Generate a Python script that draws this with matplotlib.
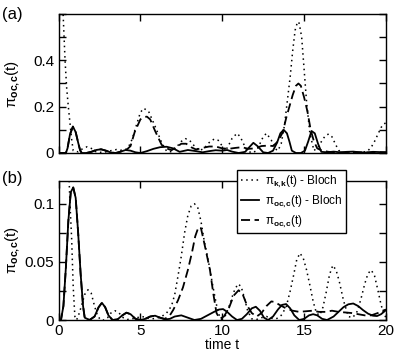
import matplotlib
matplotlib.use("Agg")
import matplotlib.pyplot as plt
from matplotlib.ticker import MultipleLocator, FixedLocator

plt.rcParams['font.family'] = ['Liberation Sans', 'DejaVu Sans']
plt.rcParams['mathtext.fontset'] = 'custom'
plt.rcParams['mathtext.rm'] = 'Liberation Sans'
plt.rcParams['mathtext.it'] = 'Liberation Sans'
plt.rcParams['mathtext.bf'] = 'Liberation Sans:bold'

# ---------------- panel (a) ----------------
ta_kk = [0, 0.1, 0.2, 0.27, 0.4, 0.5, 0.6, 0.7, 0.8, 0.9, 1.2, 1.5, 1.75, 2.0, 2.3, 2.7, 3.0, 3.3,
         3.55, 3.8, 4.1, 4.3, 4.5, 4.8, 5.0, 5.2, 5.5, 5.9, 6.3, 6.6, 6.9, 7.2, 7.5, 7.75, 8.0, 8.3,
         8.6, 8.9, 9.2, 9.5, 9.75, 10.0, 10.2, 10.4, 10.6, 10.9, 11.1, 11.3, 11.5, 11.8, 12.1, 12.3,
         12.5, 12.7, 13.0, 13.2, 13.4, 13.6, 13.8, 14.0, 14.15, 14.3, 14.45, 14.6, 14.7, 14.85, 15.0,
         15.15, 15.35, 15.6, 15.9, 16.1, 16.3, 16.5, 16.7, 16.9, 17.1, 17.4, 17.8, 18.2, 18.6, 18.9,
         19.1, 19.3, 19.5, 19.7, 19.85, 20.0]
va_kk = [1.0, 0.95, 0.78, 0.62, 0.40, 0.28, 0.20, 0.13, 0.06, 0.01, 0.005, 0.02, 0.027, 0.02, 0.005,
         0.002, 0.006, 0.012, 0.015, 0.012, 0.015, 0.03, 0.06, 0.13, 0.175, 0.193, 0.18, 0.115, 0.045,
         0.008, 0.005, 0.025, 0.05, 0.062, 0.055, 0.03, 0.01, 0.02, 0.045, 0.06, 0.055, 0.03, 0.01,
         0.035, 0.063, 0.085, 0.07, 0.04, 0.012, 0.0, 0.01, 0.04, 0.07, 0.085, 0.055, 0.02, 0.01, 0.04,
         0.12, 0.24, 0.33, 0.44, 0.53, 0.567, 0.56, 0.50, 0.36, 0.22, 0.085, 0.01, 0.03, 0.055, 0.075,
         0.082, 0.07, 0.04, 0.012, 0.0, 0.002, 0.0, 0.003, 0.01, 0.025, 0.05, 0.08, 0.11, 0.125, 0.13]

ta_oc_bloch = [0, 0.45, 0.55, 0.7, 0.88, 1.05, 1.2, 1.32, 1.42, 1.7, 2.0, 2.3, 2.6, 2.9, 3.2, 3.5, 3.8,
               4.1, 4.4, 4.7, 5.0, 5.4, 5.8, 6.2, 6.6, 7.0, 7.4, 7.9, 8.4, 8.8, 9.2, 9.6, 10.0, 10.3,
               10.6, 11.0, 11.4, 11.65, 11.9, 12.15, 12.5, 12.8, 13.1, 13.35, 13.55, 13.75, 13.95,
               14.1, 14.25, 14.5, 14.8, 15.05, 15.25, 15.45, 15.65, 15.85, 16.05, 16.4, 16.8, 17.2,
               17.6, 18.0, 18.4, 18.8, 19.2, 19.6, 20.0]
va_oc_bloch = [0, 0, 0.02, 0.08, 0.114, 0.09, 0.045, 0.012, 0, 0, 0.005, 0.013, 0.016, 0.01, 0.002, 0,
               0.006, 0.013, 0.01, 0.003, 0.0, 0.008, 0.018, 0.025, 0.027, 0.02, 0.005, 0.013, 0.008,
               0.003, 0.008, 0.012, 0.01, 0.013, 0.006, 0.0, 0.005, 0.025, 0.044, 0.03, 0.003, 0.0,
               0.01, 0.045, 0.085, 0.10, 0.085, 0.05, 0.01, 0.0, 0.0, 0.01, 0.05, 0.095, 0.085, 0.04,
               0.005, 0.003, 0.006, 0.003, 0.005, 0.006, 0.003, 0.002, 0.005, 0.004, 0.003]

ta_oc = [0, 0.45, 0.55, 0.7, 0.88, 1.05, 1.2, 1.32, 1.42, 1.7, 2.0, 2.3, 2.6, 2.9, 3.2, 3.5, 3.8, 4.1,
         4.4, 4.65, 5.0, 5.2, 5.4, 5.6, 5.9, 6.1, 6.3, 6.6, 6.9, 7.2, 7.5, 7.8, 8.1, 8.4, 8.8, 9.2,
         9.6, 10.0, 10.4, 10.8, 11.2, 11.6, 12.0, 12.4, 12.8, 13.1, 13.4, 13.7, 13.9, 14.1, 14.3,
         14.5, 14.65, 14.8, 15.0, 15.2, 15.4, 15.6, 15.8, 16.1, 16.5, 17.0, 17.5, 18.0, 18.5, 19.0,
         19.5, 20.0]
va_oc = [0, 0, 0.02, 0.08, 0.114, 0.09, 0.045, 0.012, 0, 0, 0.005, 0.013, 0.016, 0.01, 0.002, 0,
         0.006, 0.01, 0.03, 0.09, 0.145, 0.155, 0.157, 0.145, 0.095, 0.065, 0.035, 0.02, 0.012, 0.025,
         0.04, 0.04, 0.025, 0.015, 0.022, 0.028, 0.028, 0.02, 0.018, 0.022, 0.025, 0.018, 0.02, 0.03,
         0.032, 0.03, 0.05, 0.09, 0.15, 0.2, 0.25, 0.29, 0.30, 0.29, 0.24, 0.18, 0.10, 0.05, 0.02,
         0.01, 0.005, 0.003, 0.002, 0.004, 0.003, 0.002, 0.003, 0.003]

# ---------------- panel (b) ----------------
tb_kk = [0, 0.1, 0.2, 0.3, 0.4, 0.5, 0.6, 0.7, 0.8, 0.9, 1.0, 1.1, 1.2, 1.4, 1.6, 1.8, 2.0, 2.2, 2.4,
         2.6, 2.8, 3.0, 3.2, 3.45, 3.7, 3.95, 4.2, 4.5, 4.8, 5.1, 5.4, 5.7, 6.0, 6.3, 6.6, 6.9, 7.1,
         7.3, 7.5, 7.7, 7.9, 8.1, 8.3, 8.5, 8.7, 8.9, 9.15, 9.35, 9.55, 9.75, 9.95, 10.2, 10.45, 10.7,
         10.95, 11.15, 11.35, 11.55, 11.8, 12.1, 12.4, 12.7, 13.0, 13.3, 13.6, 13.9, 14.15, 14.35,
         14.55, 14.75, 14.95, 15.15, 15.35, 15.55, 15.75, 15.95, 16.15, 16.35, 16.55, 16.75, 16.95,
         17.15, 17.4, 17.7, 17.95, 18.2, 18.45, 18.7, 18.9, 19.1, 19.3, 19.5, 19.7, 19.85, 20.0]
vb_kk = [1.0, 0.95, 0.8, 0.6, 0.4, 0.22, 0.14, 0.1, 0.071, 0.028, 0.003, 0.0, 0.003, 0.012, 0.022,
         0.026, 0.023, 0.012, 0.003, 0.0, 0.0, 0.002, 0.006, 0.008, 0.006, 0.002, 0.0005, 0.001,
         0.002, 0.003, 0.002, 0.001, 0.0015, 0.003, 0.006, 0.012, 0.022, 0.038, 0.055, 0.075, 0.09,
         0.098, 0.1, 0.097, 0.085, 0.068, 0.051, 0.035, 0.02, 0.006, 0.0005, 0.004, 0.013, 0.024,
         0.031, 0.029, 0.019, 0.008, 0.001, 0.0005, 0.002, 0.003, 0.0015, 0.001, 0.004, 0.011, 0.025,
         0.038, 0.052, 0.0575, 0.053, 0.043, 0.03, 0.016, 0.006, 0.004, 0.011, 0.024, 0.039, 0.047,
         0.043, 0.033, 0.017, 0.003, 0.002, 0.006, 0.017, 0.031, 0.04, 0.043, 0.038, 0.026, 0.013,
         0.006, 0.002]

tb_oc_bloch = [0, 0.15, 0.3, 0.45, 0.6, 0.75, 0.9, 1.05, 1.2, 1.35, 1.5, 1.6, 1.9, 2.2, 2.45, 2.65,
               2.85, 3.05, 3.3, 3.6, 3.9, 4.15, 4.4, 4.7, 5.0, 5.3, 5.6, 5.9, 6.2, 6.5, 6.8, 7.1, 7.5,
               7.9, 8.3, 8.7, 9.1, 9.5, 9.8, 10.05, 10.3, 10.6, 10.9, 11.2, 11.5, 11.8, 12.05, 12.3,
               12.55, 12.8, 13.1, 13.4, 13.65, 13.9, 14.15, 14.4, 14.7, 15.0, 15.3, 15.55, 15.8, 16.1,
               16.4, 16.8, 17.1, 17.4, 17.7, 18.0, 18.3, 18.6, 18.9, 19.2, 19.45, 19.7, 20.0]
vb_oc_bloch = [0, 0.0, 0.012, 0.045, 0.085, 0.11, 0.114, 0.105, 0.075, 0.04, 0.012, 0.002, 0.0,
               0.003, 0.011, 0.0148, 0.011, 0.004, 0.0, 0.0005, 0.004, 0.0063, 0.005, 0.001, 0.0,
               0.001, 0.003, 0.0037, 0.002, 0.0005, 0.001, 0.003, 0.004, 0.002, 0.0, 0.001, 0.004,
               0.007, 0.009, 0.0094, 0.007, 0.003, 0.0, 0.001, 0.005, 0.01, 0.0114, 0.008, 0.002, 0.0,
               0.003, 0.009, 0.013, 0.0137, 0.01, 0.004, 0.0, 0.001, 0.004, 0.005, 0.004, 0.001, 0.0,
               0.003, 0.007, 0.011, 0.0135, 0.0142, 0.012, 0.0085, 0.0055, 0.0037, 0.0034, 0.005,
               0.0085]

tb_oc = [0, 0.15, 0.3, 0.45, 0.6, 0.75, 0.9, 1.05, 1.2, 1.35, 1.5, 1.6, 1.9, 2.2, 2.45, 2.65, 2.85,
         3.05, 3.3, 3.6, 3.9, 4.15, 4.4, 4.7, 5.0, 5.3, 5.6, 5.9, 6.2, 6.5, 6.8, 7.0, 7.3, 7.6, 7.9,
         8.15, 8.35, 8.55, 8.7, 8.95, 9.25, 9.45, 9.65, 9.85, 10.1, 10.4, 10.7, 11.0, 11.25, 11.5,
         11.8, 12.1, 12.4, 12.7, 13.0, 13.2, 13.5, 13.9, 14.3, 14.7, 15.1, 15.5, 15.9, 16.3, 16.7,
         17.1, 17.5, 17.9, 18.3, 18.7, 19.1, 19.5, 19.8, 20.0]
vb_oc = [0, 0.0, 0.012, 0.045, 0.085, 0.11, 0.114, 0.105, 0.075, 0.04, 0.012, 0.002, 0.0, 0.003,
         0.011, 0.0148, 0.011, 0.004, 0.0, 0.0005, 0.004, 0.0063, 0.005, 0.001, 0.0, 0.001, 0.003,
         0.0037, 0.002, 0.001, 0.004, 0.0085, 0.017, 0.028, 0.043, 0.058, 0.072, 0.08, 0.079, 0.063,
         0.043, 0.023, 0.006, 0.001, 0.003, 0.01, 0.021, 0.0256, 0.022, 0.013, 0.006, 0.003, 0.006,
         0.012, 0.016, 0.0155, 0.013, 0.01, 0.008, 0.007, 0.0075, 0.008, 0.007, 0.007, 0.008, 0.007,
         0.0065, 0.006, 0.005, 0.004, 0.004, 0.006, 0.008, 0.009]

legend_labels = [r'$\pi_{\mathbf{k,\!k}}(t)$ - Bloch',
                 r'$\pi_{\mathbf{oc,\!c}}(t)$ - Bloch',
                 r'$\pi_{\mathbf{oc,\!c}}(t)$']
ylabel = r'$\pi_{\mathbf{oc,\!c}}(t)$'
xlabel = 'time t'
panel_labels = ['(a)', '(b)']
a_yticks = [0, 0.2, 0.4]
a_yticklabels = ['0', '0.2', '0.4']
b_yticks = [0, 0.05, 0.1]
b_yticklabels = ['0', '0.05', '0.1']
b_xticks = [0, 5, 10, 15, 20]
b_xticklabels = ['0', '5', '10', '15', '20']

fig = plt.figure(figsize=(3.95, 3.52), dpi=100)
W, H = 395, 352
def rect(x0, y0, x1, y1):
    return [x0 / W, 1 - y1 / H, (x1 - x0) / W, (y1 - y0) / H]

ax_a = fig.add_axes(rect(58.5, 14, 386, 153))
ax_b = fig.add_axes(rect(58.5, 180.5, 386, 320))

dot_style = dict(color='black', lw=1.1, linestyle=(0, (1, 2.4)))
sol_style = dict(color='black', lw=1.3, linestyle='-')
dash_style = dict(color='black', lw=1.3, linestyle=(0, (5, 2.5)))

ax_a.plot(ta_kk, va_kk, **dot_style)
ax_a.plot(ta_oc, va_oc, **dash_style)
ax_a.plot(ta_oc_bloch, va_oc_bloch, **sol_style)

l1, = ax_b.plot(tb_kk, vb_kk, **dot_style)
l3, = ax_b.plot(tb_oc, vb_oc, **dash_style)
l2, = ax_b.plot(tb_oc_bloch, vb_oc_bloch, **sol_style)

for ax in (ax_a, ax_b):
    ax.set_xlim(0, 20)
    ax.xaxis.set_major_locator(MultipleLocator(5))
    ax.tick_params(which='both', direction='in', top=True, right=True, labelsize=11,
                   length=5, width=1, pad=3)
    ax.tick_params(which='minor', length=5)
    for s in ax.spines.values():
        s.set_linewidth(1.0)
    ax.set_ylabel(ylabel, fontsize=11)
    ax.yaxis.set_label_coords(-0.11, 0.5)

ax_a.set_ylim(0, 0.6)
ax_a.yaxis.set_major_locator(FixedLocator(a_yticks))
ax_a.yaxis.set_minor_locator(MultipleLocator(0.1))
ax_a.set_yticklabels(a_yticklabels)
ax_a.tick_params(labelbottom=False)

ax_b.set_ylim(0, 0.12)
ax_b.yaxis.set_major_locator(FixedLocator(b_yticks))
ax_b.yaxis.set_minor_locator(MultipleLocator(0.025))
ax_b.set_yticklabels(b_yticklabels)
ax_b.set_xticks(b_xticks)
ax_b.set_xticklabels(b_xticklabels)
ax_b.set_xlabel(xlabel, fontsize=10, labelpad=0)

fig.text(2 / W, 1 - 14 / H, panel_labels[0], fontsize=12, va='center', ha='left')
fig.text(2 / W, 1 - 178 / H, panel_labels[1], fontsize=12, va='center', ha='left')

leg = ax_b.legend([l1, l2, l3], legend_labels, loc='upper left',
                  bbox_to_anchor=(0.545, 1.075), borderaxespad=0, fontsize=8.5,
                  frameon=True, fancybox=False, framealpha=1, edgecolor='black',
                  handlelength=1.6, handletextpad=0.5, borderpad=0.3, labelspacing=0.35)
leg.get_frame().set_linewidth(1.0)
leg.set_zorder(10)

fig.savefig('out.png', dpi=100)
